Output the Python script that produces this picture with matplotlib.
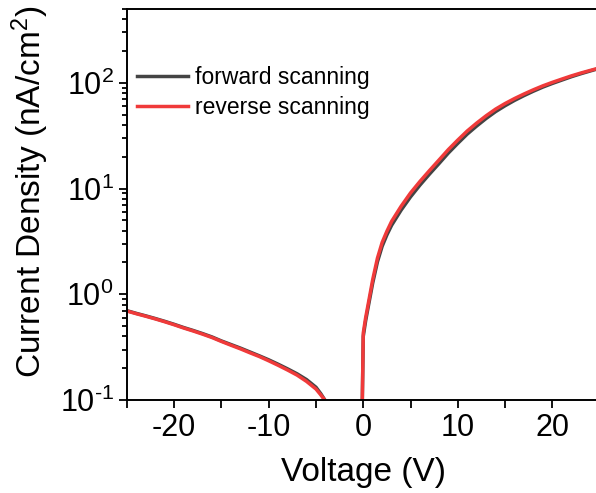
import numpy as np
import matplotlib
matplotlib.use("Agg")
import matplotlib.pyplot as plt
from matplotlib.ticker import MultipleLocator, LogLocator, NullFormatter, FuncFormatter

plt.rcParams['font.family'] = ['Liberation Sans', 'DejaVu Sans']
plt.rcParams['mathtext.fontset'] = 'custom'
plt.rcParams['mathtext.rm'] = 'Liberation Sans'
plt.rcParams['mathtext.it'] = 'Liberation Sans:italic'
plt.rcParams['mathtext.default'] = 'regular'
plt.rcParams['axes.unicode_minus'] = False

# reverse bias branch (V < 0)
v_neg = [-25, -24, -23, -22, -21, -20, -19, -18, -17, -16, -15, -14, -13, -12, -11,
         -10, -9, -8, -7, -6, -5, -4.5, -4.0]
j_neg_fwd = [0.70, 0.66, 0.625, 0.59, 0.555, 0.52, 0.485, 0.455, 0.425, 0.395, 0.362, 0.335,
             0.31, 0.285, 0.262, 0.24, 0.218, 0.197, 0.177, 0.156, 0.132, 0.115, 0.098]
j_neg_rev = [0.695, 0.655, 0.62, 0.585, 0.55, 0.515, 0.48, 0.45, 0.42, 0.39, 0.358, 0.33,
             0.305, 0.28, 0.258, 0.235, 0.213, 0.192, 0.172, 0.15, 0.127, 0.112, 0.098]

# forward bias branch (V > 0)
v_pos = [-0.1, 0.0, 0.25, 0.5, 1.0, 1.5, 2.0, 2.5, 3.0, 4.0, 5.0, 6.0, 7.0, 8.0, 9.0,
         10, 11, 12, 13, 14, 15, 16, 17, 18, 19, 20, 21, 22, 23, 24, 25]
j_pos_fwd = [0.1, 0.40, 0.56, 0.74, 1.28, 2.03, 2.85, 3.65, 4.5, 6.25, 8.35, 10.8, 13.7, 17.2,
             21.7, 26.8, 32.8, 39.1, 46.1, 53.5, 60.8, 68.3, 75.8, 83.5, 91.3, 98.8, 106.3, 114.3, 122.0, 129.6, 137.5]
j_pos_rev = [0.1, 0.43, 0.60, 0.79, 1.38, 2.2, 3.1, 3.95, 4.9, 6.8, 9.1, 11.7, 14.8, 18.6,
             23.4, 28.8, 35.1, 41.7, 48.9, 56.5, 63.8, 71.1, 78.5, 86.1, 93.8, 101.2, 108.6, 116.4, 123.9, 131.2, 138.7]


def log_fmt(val, pos):
    e = int(round(np.log10(val)))
    if e < 0:
        return r'$10^{\text{-}%d}$' % (-e)
    return r'$10^{%d}$' % e


fig = plt.figure(figsize=(5.96, 4.93), dpi=100)
ax = fig.add_axes([0.213, 0.1886, 0.793, 0.7931])

ax.plot(v_neg, j_neg_fwd, color='#444444', lw=2.5, label='forward scanning')
ax.plot(v_pos, j_pos_fwd, color='#444444', lw=2.5)
ax.plot(v_neg, j_neg_rev, color='#f03a3a', lw=2.5, label='reverse scanning')
ax.plot(v_pos, j_pos_rev, color='#f03a3a', lw=2.5)

ax.set_yscale('log')
ax.set_xlim(-25, 25)
ax.set_ylim(0.1, 500)

ax.xaxis.set_major_locator(MultipleLocator(10))
ax.xaxis.set_minor_locator(MultipleLocator(5))
ax.yaxis.set_major_locator(LogLocator(base=10))
ax.yaxis.set_major_formatter(FuncFormatter(log_fmt))
ax.yaxis.set_minor_locator(LogLocator(base=10, subs=np.arange(2, 10)))
ax.yaxis.set_minor_formatter(NullFormatter())

ax.tick_params(axis='both', which='major', direction='out', length=6, width=1.3, labelsize=22)
ax.tick_params(axis='x', which='minor', direction='out', length=6, width=1.3)
ax.tick_params(axis='y', which='minor', direction='out', length=3.5, width=1.3)
ax.tick_params(top=False, right=False, which='both')

for s in ax.spines.values():
    s.set_linewidth(1.4)

ax.set_xlabel('Voltage (V)', fontsize=24, labelpad=10)
ax.set_ylabel('Current Density (nA/cm$^2$)', fontsize=24, labelpad=6, y=0.532)

ax.legend(loc='upper left', bbox_to_anchor=(-0.012, 0.895), frameon=False, fontsize=16.5,
          handlelength=2.2, handletextpad=0.3, labelspacing=0.3, borderaxespad=0.3)

fig.savefig('out.png', dpi=100)
